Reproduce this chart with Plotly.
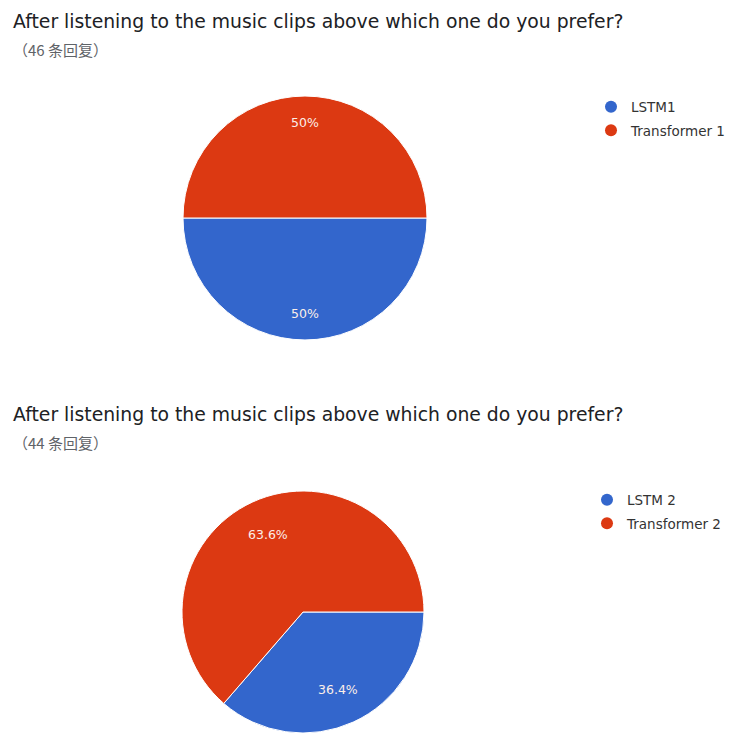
import math
import plotly.graph_objects as go

title_text = "After listening to the music clips above which one do you prefer?"
labels1 = ["LSTM1", "Transformer 1"]
values1 = [23, 23]
sub1 = "（46 条回复）"
labels2 = ["LSTM 2", "Transformer 2"]
values2 = [16, 28]
sub2 = "（44 条回复）"
colors = ["#3366CC", "#DC3912"]

W, H = 731, 733
FONT = "DejaVu Sans, Roboto, Arial"
CJK = "Noto Sans CJK SC, DejaVu Sans"


def py(px):
    return 1 - px / H


fig = go.Figure()

# pie geometry (pixels): centre x, centre y, radius, label radius fraction
pies = [
    (labels1, values1, 305, 218, 122, 0.78),
    (labels2, values2, 303, 612, 121, 0.705),
]

annotations = []
for labels, values, cx, cy, r, frac in pies:
    fig.add_trace(go.Pie(
        labels=labels, values=values, sort=False, direction="clockwise", rotation=90,
        marker=dict(colors=colors, line=dict(color="white", width=1)),
        textinfo="none", showlegend=False, hoverinfo="label+percent",
        domain=dict(x=[(cx - r) / W, (cx + r) / W], y=[py(cy + r), py(cy - r)]),
    ))
    total = sum(values)
    start = 90.0  # degrees clockwise from 12 o'clock
    for v in values:
        span = 360.0 * v / total
        mid = math.radians(start + span / 2)
        lx = cx + frac * r * math.sin(mid)
        ly = cy - frac * r * math.cos(mid)
        pct = 100.0 * v / total
        txt = f"{pct:.0f}%" if abs(pct - round(pct)) < 1e-9 else f"{pct:.1f}%"
        annotations.append(dict(
            text=txt, x=lx / W, y=py(ly), xref="paper", yref="paper",
            xanchor="center", yanchor="middle", showarrow=False,
            font=dict(family=FONT, size=12.5, color="#fbeee9"),
        ))
        start += span

# legend entries with circle markers (each its own group so tracegroupgap spaces rows)
for lbls, leg in ((labels1, "legend"), (labels2, "legend2")):
    for lab, col in zip(lbls, colors):
        fig.add_trace(go.Scatter(
            x=[None], y=[None], mode="markers", name=lab,
            marker=dict(symbol="circle", size=14, color=col),
            legend=leg, legendgroup=leg + lab, showlegend=True, hoverinfo="skip",
        ))

legend_style = dict(
    font=dict(family=FONT, size=13.5, color="#333333"),
    bgcolor="rgba(0,0,0,0)", xanchor="left", yanchor="top",
    tracegroupgap=3, itemsizing="constant",
)

for title_y, sub, sub_y in ((9, sub1, 37), (402, sub2, 430)):
    annotations.append(dict(
        text=title_text, x=11 / W, y=py(title_y), xref="paper", yref="paper",
        xanchor="left", yanchor="top", showarrow=False,
        font=dict(family=FONT, size=18.8, color="#202124")))
    annotations.append(dict(
        text=sub, x=11 / W, y=py(sub_y), xref="paper", yref="paper",
        xanchor="left", yanchor="top", showarrow=False,
        font=dict(family=CJK, size=15, color="#5f6368")))

fig.update_layout(
    width=W, height=H,
    margin=dict(l=0, r=0, t=0, b=0),
    paper_bgcolor="white", plot_bgcolor="white",
    xaxis=dict(visible=False), yaxis=dict(visible=False),
    legend=dict(x=591 / W, y=py(91.5), **legend_style),
    legend2=dict(x=587 / W, y=py(484.5), **legend_style),
    annotations=annotations,
)

fig.write_html("out.html")
